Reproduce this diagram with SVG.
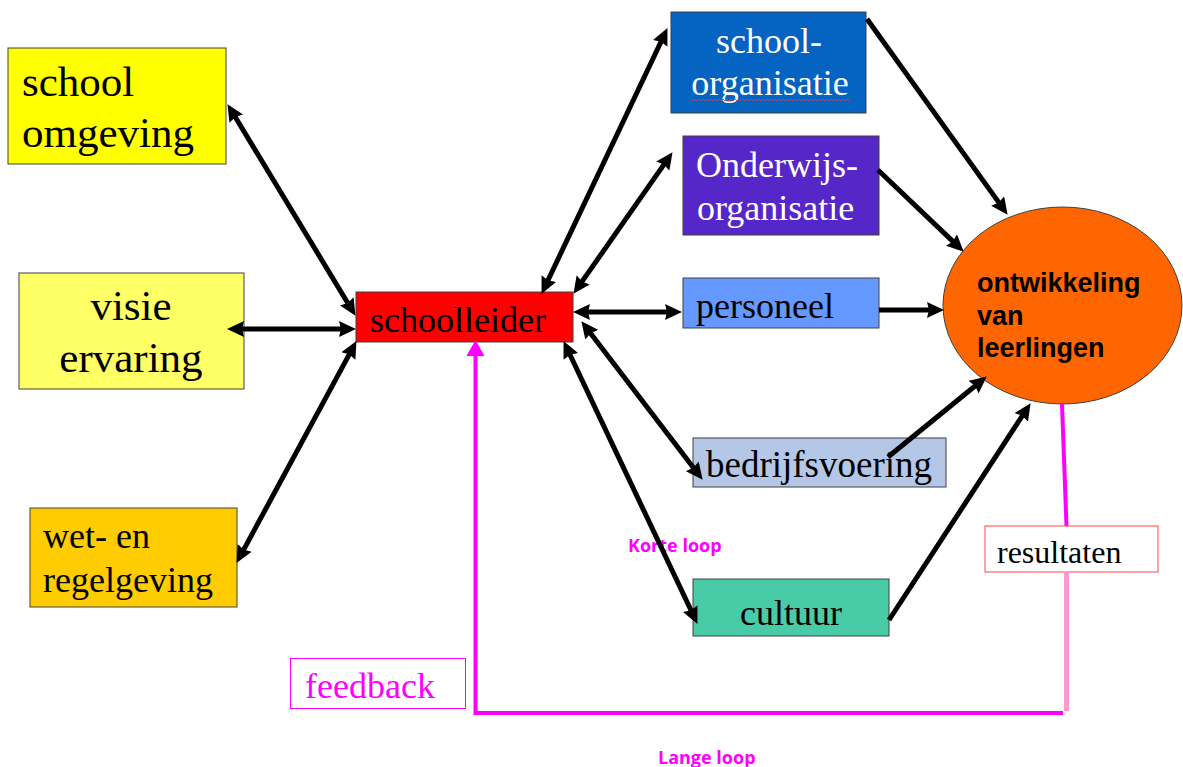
<svg xmlns="http://www.w3.org/2000/svg" width="1183" height="767" viewBox="0 0 1183 767">
<defs>
<marker id="ah" markerUnits="userSpaceOnUse" markerWidth="17" markerHeight="16" refX="11" refY="8" orient="auto-start-reverse" viewBox="0 0 17 16">
<path d="M0,0 L17,8 L0,16 L2,8 z" fill="#000"/>
</marker>
<marker id="ahm" markerUnits="userSpaceOnUse" markerWidth="16" markerHeight="18" refX="11" refY="9" orient="auto" viewBox="0 0 16 18">
<path d="M0,0 L16,9 L0,18 z" fill="#FF00FF"/>
</marker>
</defs>
<style>
.box{stroke:#404040;stroke-width:1}
.t{font-family:"Liberation Serif","Times New Roman",serif;fill:#000}
.w{fill:#fff}
.b{font-family:"Liberation Sans",Arial,sans-serif;font-weight:bold;font-size:27px;fill:#000}
.lbl{font-family:"Open Sans","Liberation Sans",sans-serif;font-weight:bold;font-size:18px;fill:#FF00FF}
.c{stroke:#000;stroke-width:5;fill:none}
.d{marker-start:url(#ah);marker-end:url(#ah)}
.s{marker-end:url(#ah)}
</style>
<rect width="1183" height="767" fill="#fff"/>

<g id="school-omgeving">
<rect class="box" x="8" y="48" width="218" height="116" fill="#FFFF00"/>
<text class="t" x="22" y="96" font-size="43">school</text>
<text class="t" x="22" y="147" font-size="43">omgeving</text>
</g>
<g id="visie-ervaring">
<rect class="box" x="19" y="273" width="225" height="116" fill="#FFFF66"/>
<text class="t" x="131" y="320" font-size="43" text-anchor="middle">visie</text>
<text class="t" x="131" y="372" font-size="43" text-anchor="middle">ervaring</text>
</g>
<g id="wet-regelgeving">
<rect class="box" x="30" y="508" width="207" height="99" fill="#FFCC00"/>
<text class="t" x="43" y="548" font-size="36">wet- en</text>
<text class="t" x="43" y="592" font-size="36">regelgeving</text>
</g>
<g id="schoolleider">
<rect class="box" x="356" y="292" width="217" height="50" fill="#FF0000"/>
<text class="t" x="370" y="332" font-size="36">schoolleider</text>
</g>
<g id="schoolorganisatie">
<rect class="box" x="671" y="12" width="195" height="101" fill="#0563C1"/>
<text class="t w" x="769" y="53" font-size="36" text-anchor="middle">school-</text>
<text class="t w" x="770" y="95" font-size="36" text-anchor="middle">organisatie</text>
<path d="M691,99 l2,2 l2,-2 l2,2 l2,-2 l2,2 l2,-2 l2,2 l2,-2 l2,2 l2,-2 l2,2 l2,-2 l2,2 l2,-2 l2,2 l2,-2 l2,2 l2,-2 l2,2 l2,-2 l2,2 l2,-2 l2,2 l2,-2 l2,2 l2,-2 l2,2 l2,-2 l2,2 l2,-2 l2,2 l2,-2 l2,2 l2,-2 l2,2 l2,-2 l2,2 l2,-2 l2,2 l2,-2 l2,2 l2,-2 l2,2 l2,-2 l2,2 l2,-2 l2,2 l2,-2 l2,2 l2,-2 l2,2 l2,-2 l2,2 l2,-2 l2,2 l2,-2 l2,2 l2,-2 l2,2 l2,-2 l2,2 l2,-2 l2,2 l2,-2 l2,2 l2,-2 l2,2 l2,-2 l2,2 l2,-2 l2,2 l2,-2 l2,2 l2,-2 l2,2 l2,-2 l2,2 l2,-2 l2,2" fill="none" stroke="#E04040" stroke-width="0.8"/>
</g>
<g id="onderwijsorganisatie">
<rect class="box" x="683" y="136" width="196" height="99" fill="#5627C8"/>
<text class="t w" x="696" y="177" font-size="36">Onderwijs-</text>
<text class="t w" x="697" y="220" font-size="36">organisatie</text>
</g>
<g id="personeel">
<rect class="box" x="683" y="278" width="196" height="50" fill="#6699FF"/>
<text class="t" x="696" y="318" font-size="36">personeel</text>
</g>
<g id="bedrijfsvoering">
<rect class="box" x="693" y="438" width="253" height="49" fill="#B4C7E7"/>
<text class="t" x="706" y="477" font-size="37">bedrijfsvoering</text>
</g>
<g id="cultuur">
<rect class="box" x="693" y="579" width="196" height="57" fill="#48CBA7"/>
<text class="t" x="740" y="625" font-size="36">cultuur</text>
</g>
<g id="ontwikkeling">
<ellipse cx="1062.5" cy="305.5" rx="119.5" ry="98.5" fill="#FF6600" stroke="#404040" stroke-width="1"/>
<text class="b" x="977" y="292">ontwikkeling</text>
<text class="b" x="977" y="325">van</text>
<text class="b" x="977" y="357">leerlingen</text>
</g>
<g id="resultaten">
<rect x="985" y="526" width="173" height="46" fill="#fff" stroke="#FF4444" stroke-width="1"/>
<text class="t" x="997" y="563" font-size="32">resultaten</text>
</g>
<g id="feedback">
<rect x="290.5" y="658.5" width="175" height="50" fill="none" stroke="#FF00FF" stroke-width="1"/>
<text class="t" x="305" y="698" font-size="36" style="fill:#FF00FF">feedback</text>
</g>
<g id="labels">
<text class="lbl" x="628" y="552">Korte loop</text>
<text class="lbl" x="658" y="764">Lange loop</text>
</g>

<g id="connectors">
<line class="c d" x1="230.6" y1="109.3" x2="352.4" y2="310.7"/>
<line class="c d" x1="233" y1="329" x2="350" y2="329"/>
<line class="c d" x1="353.6" y1="346.4" x2="239.4" y2="557.6"/>
<line class="c d" x1="664.9" y1="33.5" x2="544.1" y2="288.5"/>
<line class="c d" x1="669.1" y1="157.1" x2="576.9" y2="288.9"/>
<line class="c d" x1="579" y1="312" x2="676" y2="312"/>
<line class="c d" x1="585" y1="326" x2="699" y2="475"/>
<line class="c d" x1="566.1" y1="346.5" x2="694.9" y2="618.5"/>
<line class="c s" x1="867" y1="19" x2="1004.1" y2="209.9"/>
<line class="c s" x1="878" y1="170" x2="959.4" y2="247.6"/>
<line class="c s" x1="879" y1="310" x2="938" y2="310"/>
<line class="c s" x1="888" y1="457" x2="982.1" y2="380.2"/>
<line class="c s" x1="889" y1="620" x2="1027.3" y2="408.2"/>
<line x1="1062" y1="404" x2="1066.5" y2="526" stroke="#FF00FF" stroke-width="4"/>
<line x1="1066.5" y1="572" x2="1066.5" y2="711" stroke="#FF99CC" stroke-width="5"/>
<polyline points="1063,713 475.5,713 475.5,345" fill="none" stroke="#FF00FF" stroke-width="4" marker-end="url(#ahm)"/>
</g>
</svg>
